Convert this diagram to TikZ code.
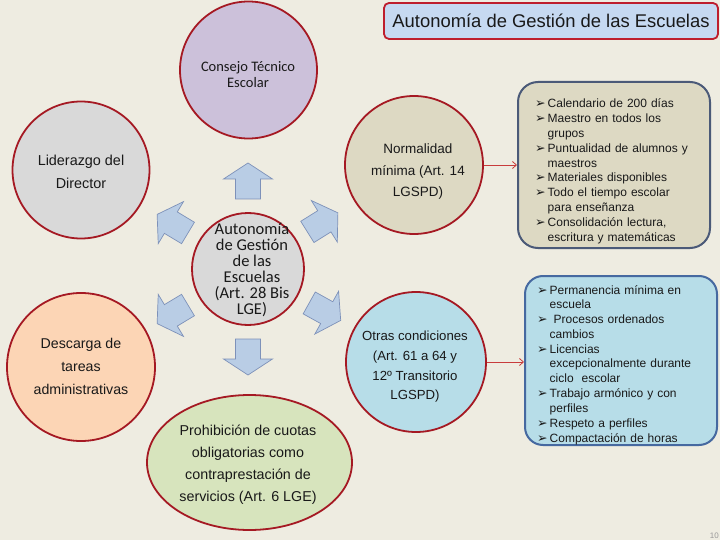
\documentclass[tikz,border=0pt]{standalone}
\usepackage{fontspec}
\setmainfont{Liberation Sans}
\newfontfamily\calib{Carlito}
\newfontfamily\dejavu{DejaVu Sans}
\usetikzlibrary{shapes.geometric,arrows.meta}
\definecolor{bg}{RGB}{238,236,225}
\definecolor{cred}{RGB}{165,25,35}
\definecolor{tred}{RGB}{190,30,45}
\definecolor{tblue}{RGB}{198,217,241}
\definecolor{lav}{RGB}{204,193,218}
\definecolor{lgrey}{RGB}{217,217,217}
\definecolor{beige}{RGB}{221,217,195}
\definecolor{peach}{RGB}{252,213,181}
\definecolor{lblue}{RGB}{183,221,232}
\definecolor{lgreen}{RGB}{215,228,189}
\definecolor{bedge}{RGB}{75,90,120}
\definecolor{bedgeb}{RGB}{70,105,160}
\definecolor{ablue}{RGB}{185,205,229}
\definecolor{aedge}{RGB}{125,145,185}
\definecolor{conred}{RGB}{200,60,60}
\definecolor{txt}{RGB}{25,25,25}
\newcommand\litem[1]{\par\hangindent=12.5pt\hangafter=1\noindent\makebox[12.5pt][l]{\dejavu\fontsize{12.5}{12}\selectfont ➢}#1}
\begin{document}
\begin{tikzpicture}[x=1pt,y=-1pt,
  circ/.style={circle, draw=cred, line width=1.8pt, inner sep=0pt},
  ctext/.style={align=center, text=txt, inner sep=0pt},
  listbox/.style={rectangle, line width=2pt, inner sep=0pt},
  listtext/.style={text width=180pt, inner sep=0pt, anchor=north west, text=txt, font=\fontsize{12}{14.8}\selectfont},
  barrow/.style={fill=ablue, draw=aedge, line width=0.7pt, line join=miter},
  conn/.style={draw=conred, line width=0.8pt, -{Straight Barb[length=4pt,width=7pt]}}]
\fill[bg] (0,0) rectangle (720,540);
\useasboundingbox (0,0) rectangle (720,540);

% title
\node[draw=tred, fill=tblue, line width=1.8pt, rounded corners=5pt, minimum width=334pt, minimum height=36pt, inner sep=0pt, text=txt, font=\fontsize{18.4}{20}\selectfont] (title) at (551,21) {Autonomía de Gestión de las Escuelas};

% circles
\node[circ, fill=lav, minimum size=137pt] (cte) at (248.5,70) {};
\node[ctext, font=\calib\fontsize{14.5}{16}\selectfont] (cteT) at (248,75) {Consejo Técnico\\Escolar};

\node[circ, fill=lgrey, minimum size=137pt] (lid) at (81,170) {};
\node[ctext, font=\fontsize{14.4}{23}\selectfont] (lidT) at (81,172) {Liderazgo del\\Director};

\node[circ, fill=beige, minimum size=138pt] (nm) at (414,165) {};
\node[ctext, font=\fontsize{13.5}{21.5}\selectfont] (nmT) at (418,172) {Normalidad\\mínima (Art. 14\\LGSPD)};

\node[circ, fill=lgrey, minimum size=112pt] (cen) at (248,269) {};
\node[ctext, font=\calib\fontsize{16.5}{16}\selectfont] (cenT) at (252,270) {Autonomía\\de Gestión\\de las\\Escuelas\\(Art. 28 Bis\\LGE)};

\node[circ, fill=peach, minimum size=148pt] (des) at (81,367) {};
\node[ctext, font=\fontsize{14.2}{23}\selectfont] (desT) at (81,366) {Descarga de\\tareas\\administrativas};

\node[circ, fill=lblue, minimum size=140pt] (oc) at (416,362) {};
\node[ctext, font=\fontsize{13.2}{19.7}\selectfont] (ocT) at (415,367) {Otras condiciones\\(Art. 61 a 64 y\\12º Transitorio\\LGSPD)};

\node[ellipse, draw=cred, line width=1.8pt, fill=lgreen, minimum width=205pt, minimum height=135pt, inner sep=0pt] (pro) at (249.5,462.5) {};
\node[ctext, font=\fontsize{14.3}{22}\selectfont] (proT) at (248,465) {Prohibición de cuotas\\obligatorias como\\contraprestación de\\servicios (Art. 6 LGE)};

% block arrows
\foreach \a in {90,32,-29,-90,211,149}{
  \begin{scope}[shift={({248+88*cos(\a)},{269-88*sin(\a)})}, rotate=\a]
    \draw[barrow] (-18,-12.5) -- (2,-12.5) -- (2,-24.5) -- (18,0) -- (2,24.5) -- (2,12.5) -- (-18,12.5) -- cycle;
  \end{scope}
}

% list boxes
\node[listbox, draw=bedge, fill=beige, rounded corners=20pt, minimum width=192pt, minimum height=166pt] (box1) at (614,165) {};
\node[listtext] (box1T) at (535,93) {\raggedright
\litem{Calendario de 200 días}
\litem{Maestro en todos los\newline grupos}
\litem{Puntualidad de alumnos y\newline maestros}
\litem{Materiales disponibles}
\litem{Todo el tiempo escolar\newline para enseñanza}
\litem{Consolidación lectura,\newline escritura y matemáticas}\par};

\node[listbox, draw=bedgeb, fill=lblue, rounded corners=18pt, minimum width=192pt, minimum height=169pt] (box2) at (621,360.5) {};
\node[listtext] (box2T) at (537,279) {\raggedright
\litem{Permanencia mínima en\newline escuela}
\litem{\ Procesos ordenados\newline cambios}
\litem{Licencias\newline excepcionalmente durante\newline ciclo\ \ escolar}
\litem{Trabajo armónico y con\newline perfiles}
\litem{Respeto a perfiles}
\litem{Compactación de horas}\par};

% connectors
\draw[conn] (nm.east) -- (nm.east -| box1.west);
\draw[conn] (oc.east) -- (oc.east -| box2.west);

% page number
\node[anchor=south east, inner sep=0pt, text=gray!80, font=\fontsize{8}{8}\selectfont] (pg) at (719,539) {10};
\end{tikzpicture}
\end{document}
